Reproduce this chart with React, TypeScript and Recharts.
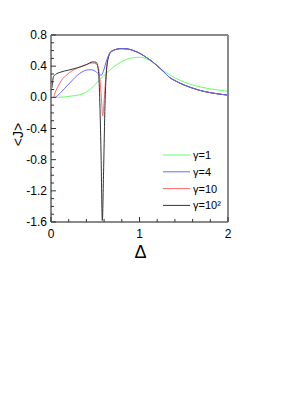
import { LineChart, Line, XAxis, YAxis, Legend } from "recharts";

// Δ values and <J> values
const tailDelta = [0.7, 0.75, 0.8, 0.86, 0.93, 1.0, 1.06, 1.12, 1.18, 1.23, 1.29, 1.34, 1.4, 1.46, 1.57, 1.68, 1.8, 1.9, 2.0];
const tailJ = [0.6, 0.62, 0.625, 0.622, 0.6, 0.567, 0.525, 0.48, 0.425, 0.375, 0.31, 0.255, 0.215, 0.18, 0.13, 0.09, 0.06, 0.042, 0.028];

const gamma1Delta = [0.05, 0.15, 0.25, 0.35, 0.4, 0.45, 0.5, 0.55, 0.65, 0.75, 0.85, 0.95, 1.0, 1.05, 1.12, 1.23, 1.34, 1.46, 1.57, 1.7, 1.85, 2.0];
const gamma1J = [0, 0.005, 0.02, 0.04, 0.07, 0.11, 0.165, 0.225, 0.335, 0.425, 0.485, 0.512, 0.515, 0.505, 0.47, 0.375, 0.29, 0.217, 0.17, 0.13, 0.1, 0.077];

const gamma4Delta = [0.05, 0.1, 0.15, 0.2, 0.25, 0.3, 0.35, 0.4, 0.45, 0.5, 0.55, 0.57, 0.59, 0.63, 0.67];
const gamma4J = [0, 0.05, 0.11, 0.17, 0.23, 0.285, 0.325, 0.35, 0.355, 0.335, 0.29, 0.285, 0.33, 0.48, 0.58];

const gamma10Delta = [0.03, 0.05, 0.08, 0.12, 0.18, 0.25, 0.32, 0.4, 0.47, 0.51, 0.535, 0.555, 0.57, 0.584, 0.598, 0.612, 0.63, 0.66];
const gamma10J = [0, 0.07, 0.14, 0.22, 0.29, 0.35, 0.385, 0.42, 0.44, 0.43, 0.38, 0.2, -0.02, -0.24, -0.08, 0.15, 0.4, 0.55];

const gamma100Delta = [0.01, 0.03, 0.06, 0.1, 0.2, 0.3, 0.4, 0.47, 0.51, 0.535, 0.55, 0.565, 0.58, 0.595, 0.61, 0.625, 0.65, 0.68];
const gamma100J = [0.12, 0.27, 0.3, 0.32, 0.35, 0.38, 0.42, 0.455, 0.45, 0.35, 0, -0.7, -1.58, -0.9, -0.1, 0.3, 0.52, 0.59];

const xTicks = [0, 0.2, 0.4, 0.6, 0.8, 1, 1.2, 1.4, 1.6, 1.8, 2];
const yTicks = [-1.6, -1.5, -1.4, -1.3, -1.2, -1.1, -1, -0.9, -0.8, -0.7, -0.6, -0.5, -0.4, -0.3, -0.2, -0.1, 0, 0.1, 0.2, 0.3, 0.4, 0.5, 0.6, 0.7, 0.8];

const toPoints = (xs: number[], ys: number[]) => xs.map((x, i) => ({ x, y: ys[i] }));

// legend order
const series = [
  { name: "γ=1", color: "#66ff66", data: toPoints(gamma1Delta, gamma1J) },
  { name: "γ=4", color: "#6a6aff", data: toPoints([...gamma4Delta, ...tailDelta], [...gamma4J, ...tailJ]) },
  { name: "γ=10", color: "#ff6a6a", data: toPoints([...gamma10Delta, ...tailDelta], [...gamma10J, ...tailJ]) },
  { name: "γ=10²", color: "#333333", data: toPoints([...gamma100Delta, ...tailDelta], [...gamma100J, ...tailJ]) },
];
// drawing order (blue ends up on top of the shared tail)
const drawOrder = [0, 2, 3, 1];

const FONT = "'Liberation Sans', Arial, sans-serif";
const AXIS = { stroke: "#8a8a8a", strokeWidth: 2 };

const XTick = (props: any) => {
  const { x, y, payload, side } = props;
  const v = payload.value;
  const major = Math.abs(v - Math.round(v)) < 1e-6;
  const len = major ? 5 : 3;
  const dir = side === "bottom" ? -1 : 1;
  return (
    <g>
      <line x1={x} x2={x} y1={y} y2={y + dir * len} stroke="#333" />
      {side === "bottom" && major && (
        <text x={x} y={y + 16} textAnchor="middle" fontSize={12} fontFamily={FONT} fill="#000">
          {v}
        </text>
      )}
    </g>
  );
};

const YTick = (props: any) => {
  const { x, y, payload, side } = props;
  const v = payload.value;
  const major = Math.abs(Math.round(v * 10)) % 4 === 0;
  const len = major ? 5 : 3;
  const dir = side === "left" ? 1 : -1;
  return (
    <g>
      <line x1={x} x2={x + dir * len} y1={y} y2={y} stroke="#333" />
      {side === "left" && major && (
        <text x={x - 4} y={y + 4} textAnchor="end" fontSize={12} fontFamily={FONT} fill="#000">
          {v.toFixed(1)}
        </text>
      )}
    </g>
  );
};

const LegendBox = () => (
  <svg width={80} height={72} style={{ display: "block" }}>
    {series.map((s, i) => {
      const cy = 8 + i * 16.8;
      return (
        <g key={s.name}>
          <line x1={0} x2={27} y1={cy} y2={cy} stroke={s.color} strokeWidth={1} />
          <text x={30} y={cy + 4} fontSize={11} fontFamily={FONT} fill="#000">
            {s.name}
          </text>
        </g>
      );
    })}
  </svg>
);

export default function App() {
  return (
    <div style={{ fontFamily: FONT }}>
      <LineChart width={289} height={260} margin={{ top: 26, right: 68, bottom: 16, left: 0 }}>
        <XAxis
          dataKey="x"
          type="number"
          domain={[0, 2]}
          ticks={xTicks}
          interval={0}
          allowDataOverflow
          height={30}
          axisLine={AXIS}
          tickLine={false}
          tickSize={0}
          tickMargin={0}
          tick={(p: any) => <XTick {...p} side="bottom" />}
          label={({ viewBox }: any) => (
            <text
              x={viewBox.x + viewBox.width / 2 + 1}
              y={viewBox.y + 30}
              textAnchor="middle"
              dominantBaseline="central"
              fontSize={18}
              fontFamily={FONT}
            >
              Δ
            </text>
          )}
        />
        <XAxis
          xAxisId="top"
          orientation="top"
          dataKey="x"
          type="number"
          domain={[0, 2]}
          ticks={xTicks}
          interval={0}
          height={1}
          axisLine={AXIS}
          tickLine={false}
          tickSize={0}
          tickMargin={0}
          tick={(p: any) => <XTick {...p} side="top" />}
        />
        <YAxis
          type="number"
          domain={[-1.6, 0.8]}
          ticks={yTicks}
          interval={0}
          allowDataOverflow
          width={43}
          axisLine={AXIS}
          tickLine={false}
          tickSize={0}
          tickMargin={0}
          tick={(p: any) => <YTick {...p} side="left" />}
          label={({ viewBox }: any) => {
            const cx = viewBox.x + 10;
            const cy = viewBox.y + viewBox.height / 2 + 6;
            return (
              <text
                x={cx}
                y={cy}
                transform={`rotate(-90, ${cx}, ${cy})`}
                textAnchor="middle"
                dominantBaseline="central"
                fontSize={14}
                fontFamily={FONT}
              >
                {"<J>"}
              </text>
            );
          }}
        />
        <YAxis
          yAxisId="right"
          orientation="right"
          type="number"
          domain={[-1.6, 0.8]}
          ticks={yTicks}
          interval={0}
          width={1}
          axisLine={AXIS}
          tickLine={false}
          tickSize={0}
          tickMargin={0}
          tick={(p: any) => <YTick {...p} side="right" />}
        />
        {drawOrder.map((i) => {
          const s = series[i];
          return (
            <Line
              key={s.name}
              data={s.data}
              dataKey="y"
              name={s.name}
              type="monotone"
              stroke={s.color}
              strokeWidth={1}
              dot={false}
              isAnimationActive={false}
            />
          );
        })}
        <Legend
          layout="vertical"
          align="center"
          verticalAlign="middle"
          wrapperStyle={{ left: 155, top: 139, width: 80 }}
          content={() => <LegendBox />}
        />
      </LineChart>
    </div>
  );
}
